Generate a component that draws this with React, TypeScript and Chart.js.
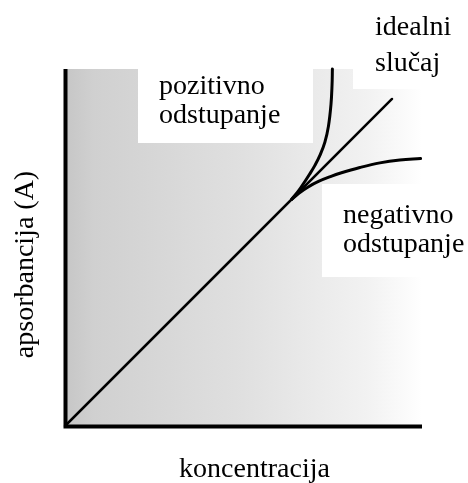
import React, { useEffect, useRef } from "react";
import { Chart, registerables } from "chart.js";

Chart.register(...registerables);

// Data (concentration on x, absorbance on y, arbitrary units 0..10)
const idealX = [0, 9.16];
const idealY = [0, 9.16];
const positiveX = [6.35, 6.55, 6.7, 6.85, 7.0, 7.15, 7.28, 7.38, 7.45, 7.48, 7.49];
const positiveY = [6.35, 6.6, 6.82, 7.05, 7.3, 7.6, 7.95, 8.4, 9.0, 9.55, 10.0];
const negativeX = [6.35, 6.55, 6.8, 7.1, 7.47, 7.7, 8.26, 8.82, 9.38, 9.96];
const negativeY = [6.35, 6.52, 6.69, 6.85, 7.0, 7.08, 7.24, 7.37, 7.45, 7.49];

const xTitle = "koncentracija";
const yTitle = "apsorbancija (A)";
const labelIdeal = ["idealni", "slučaj"];
const labelPositive = ["pozitivno", "odstupanje"];
const labelNegative = ["negativno", "odstupanje"];

const toPoints = (xs: number[], ys: number[]) => xs.map((x, i) => ({ x, y: ys[i] }));

const FONT = '28px "Liberation Serif", "Times New Roman", serif';

const decorPlugin = {
  id: "decor",
  beforeDatasetsDraw(chart: any) {
    const { ctx, chartArea } = chart;
    const { left, right, top, bottom } = chartArea;
    ctx.save();
    const g = ctx.createLinearGradient(left, 0, right, 0);
    g.addColorStop(0, "rgb(198,198,198)");
    g.addColorStop(0.08, "rgb(208,208,208)");
    g.addColorStop(0.5, "rgb(224,224,224)");
    g.addColorStop(0.85, "rgb(242,242,242)");
    g.addColorStop(1, "rgb(255,255,255)");
    ctx.fillStyle = g;
    ctx.fillRect(left, top, right - left, bottom - top);
    // white label backgrounds
    ctx.fillStyle = "#ffffff";
    ctx.fillRect(138, 60, 175, 83);
    ctx.fillRect(353, 0, 115, 89);
    ctx.fillRect(322, 184, 146, 93);
    ctx.restore();
  },
  afterDatasetsDraw(chart: any) {
    const { ctx, scales } = chart;
    const x0 = scales.x.getPixelForValue(0);
    const x1 = scales.x.getPixelForValue(10);
    const y0 = scales.y.getPixelForValue(0);
    const y1 = scales.y.getPixelForValue(10);
    ctx.save();
    ctx.strokeStyle = "#000";
    ctx.lineWidth = 4;
    ctx.lineCap = "butt";
    ctx.beginPath();
    ctx.moveTo(x0 + 0.5, y1);
    ctx.lineTo(x0 + 0.5, y0 + 2.5);
    ctx.moveTo(x0 - 1.5, y0 + 0.5);
    ctx.lineTo(x1, y0 + 0.5);
    ctx.stroke();
    ctx.restore();
  },
  afterDraw(chart: any) {
    const { ctx } = chart;
    ctx.save();
    ctx.fillStyle = "#000";
    ctx.font = FONT;
    ctx.textBaseline = "alphabetic";
    ctx.textAlign = "left";
    ctx.fillText(labelIdeal[0], 375, 35);
    ctx.fillText(labelIdeal[1], 375, 71);
    ctx.fillText(labelPositive[0], 159, 94);
    ctx.fillText(labelPositive[1], 159, 123);
    ctx.fillText(labelNegative[0], 343, 223);
    ctx.fillText(labelNegative[1], 343, 252);
    ctx.textAlign = "center";
    ctx.fillText(xTitle, 254.5, 477);
    ctx.translate(33, 264.5);
    ctx.rotate(-Math.PI / 2);
    ctx.fillText(yTitle, 0, 0);
    ctx.restore();
  },
};

export default function App() {
  const ref = useRef<HTMLCanvasElement | null>(null);
  useEffect(() => {
    if (!ref.current) return;
    const lineStyle = {
      borderColor: "#000",
      borderWidth: 3,
      pointRadius: 0,
      showLine: true,
      fill: false,
      clip: false as any,
      tension: 0.4,
      borderCapStyle: "round" as const,
    };
    const chart = new Chart(ref.current, {
      type: "scatter",
      data: {
        datasets: [
          { label: "idealni slučaj", data: toPoints(idealX, idealY), ...lineStyle, borderWidth: 2.5 },
          { label: "pozitivno odstupanje", data: toPoints(positiveX, positiveY), ...lineStyle },
          { label: "negativno odstupanje", data: toPoints(negativeX, negativeY), ...lineStyle },
        ],
      },
      options: {
        animation: false,
        responsive: true,
        maintainAspectRatio: false,
        layout: { padding: { left: 65, right: 46, top: 69, bottom: 57 } },
        plugins: { legend: { display: false }, tooltip: { enabled: false } },
        events: [],
        scales: {
          x: { type: "linear", min: 0, max: 10, display: false },
          y: { type: "linear", min: 0, max: 10, display: false },
        },
      },
      plugins: [decorPlugin],
    });
    return () => chart.destroy();
  }, []);
  return (
    <div style={{ position: "absolute", left: 0, top: 0, width: 468, height: 483, background: "#fff" }}>
      <canvas ref={ref} />
    </div>
  );
}
